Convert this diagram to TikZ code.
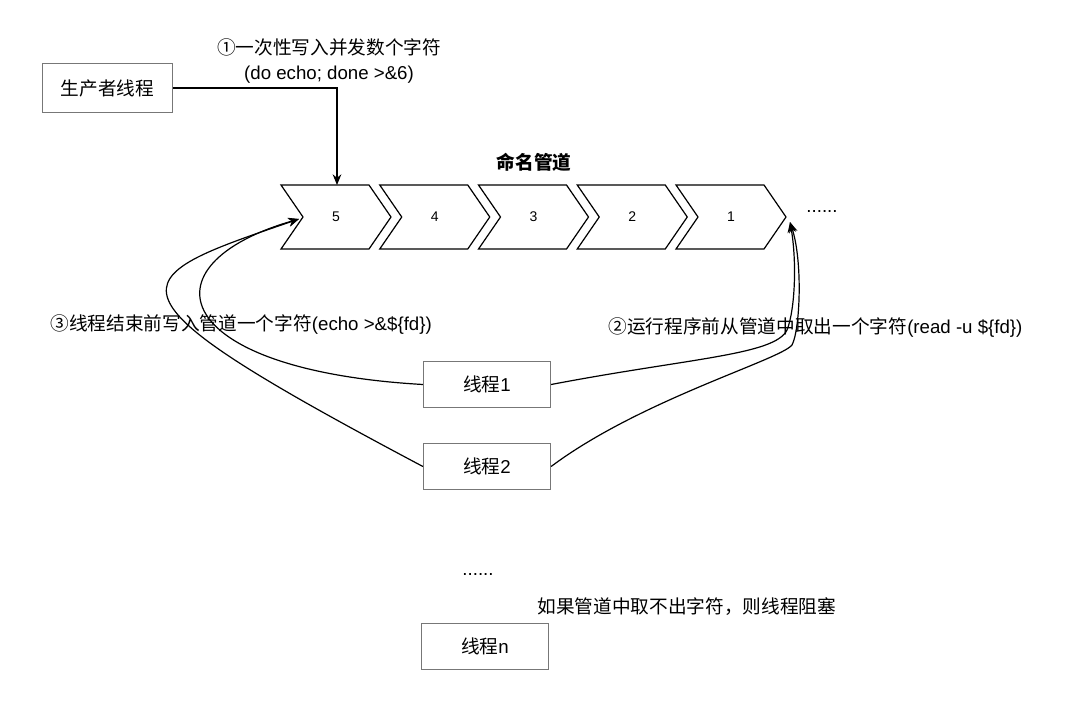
\documentclass[tikz,border=0pt]{standalone}
\usepackage{fontspec}
\setmainfont{Liberation Sans}
\newfontfamily\cjk{Noto Sans CJK SC}
\usetikzlibrary{arrows.meta}
\definecolor{boxline}{HTML}{777777}

\begin{document}
\begin{tikzpicture}[x=0.75pt,y=-0.75pt,line width=0.9pt,
    thread/.style={draw=boxline,minimum width=95.25pt,minimum height=34.5pt,
      inner sep=0pt,font=\fontsize{14}{17}\selectfont},
    lbl/.style={inner sep=0pt,font=\fontsize{14}{19}\selectfont},
    pipe/.style={draw,line join=miter},
    flow/.style={-{Stealth[length=8pt,width=6.5pt]}}]
  \useasboundingbox (0,0) rectangle (1080,717);
  % producer and its label
  \node[thread,minimum width=97.5pt,minimum height=36.75pt] (prod) at (107.5,88) {\cjk 生产者线程};
  \node[lbl,align=center] (wlabel) at (329,61) {{\cjk ①一次性写入并发数个字符}\\(do echo; done >\&6)};
  % the named pipe
  \node[lbl] (pipename) at (534,162) {\cjk\bfseries 命名管道};
  \foreach \k/\n in {0/5,1/4,2/3,3/2,4/1}{
    \draw[pipe] (281+98.75*\k,185) -- ++(88,0) -- ++(22,32) -- ++(-22,32)
      -- ++(-88,0) -- ++(22,-32) -- cycle;
    \node[font=\fontsize{10.5}{12}\selectfont] (ch\n) at (336+98.75*\k,217) {\n};}
  \node[lbl] (more) at (822,211) {......};
  \coordinate (top5) at (337,185);
  \coordinate (in5) at (299,219);
  \coordinate (out1) at (790,222);
  % threads
  \node[thread] (t1) at (487,384.5) {{\cjk 线程}1};
  \node[thread] (t2) at (487,466.5) {{\cjk 线程}2};
  \node[lbl] (dots) at (478,574) {......};
  \node[thread] (tn) at (485,646.5) {{\cjk 线程}n};
  \node[lbl,anchor=west] (block) at (537,607) {\cjk 如果管道中取不出字符，则线程阻塞};
  \node[lbl,anchor=west] (put) at (50,325) {{\cjk ③线程结束前写入管道一个字符}(echo >\&\$\{fd\})};
  \node[lbl,anchor=west] (take) at (608,328) {{\cjk ②运行程序前从管道中取出一个字符}(read -u \$\{fd\})};
  % connectors
  \draw[flow] (prod.east) -| (top5);
  \draw[flow] (t1.west) .. controls (170,370) and (140,265) .. (in5);
  \draw[flow] (t2.west) .. controls (90,290) and (120,280) .. (in5);
  \draw[flow] (t1.east) .. controls (690,358) and (775,355) .. (787,330)
    .. controls (795,310) and (797,262) .. (out1);
  \draw[flow] (t2.east) .. controls (640,400) and (780,360) .. (792,345)
    .. controls (800,330) and (803,262) .. (out1);
\end{tikzpicture}
\end{document}
